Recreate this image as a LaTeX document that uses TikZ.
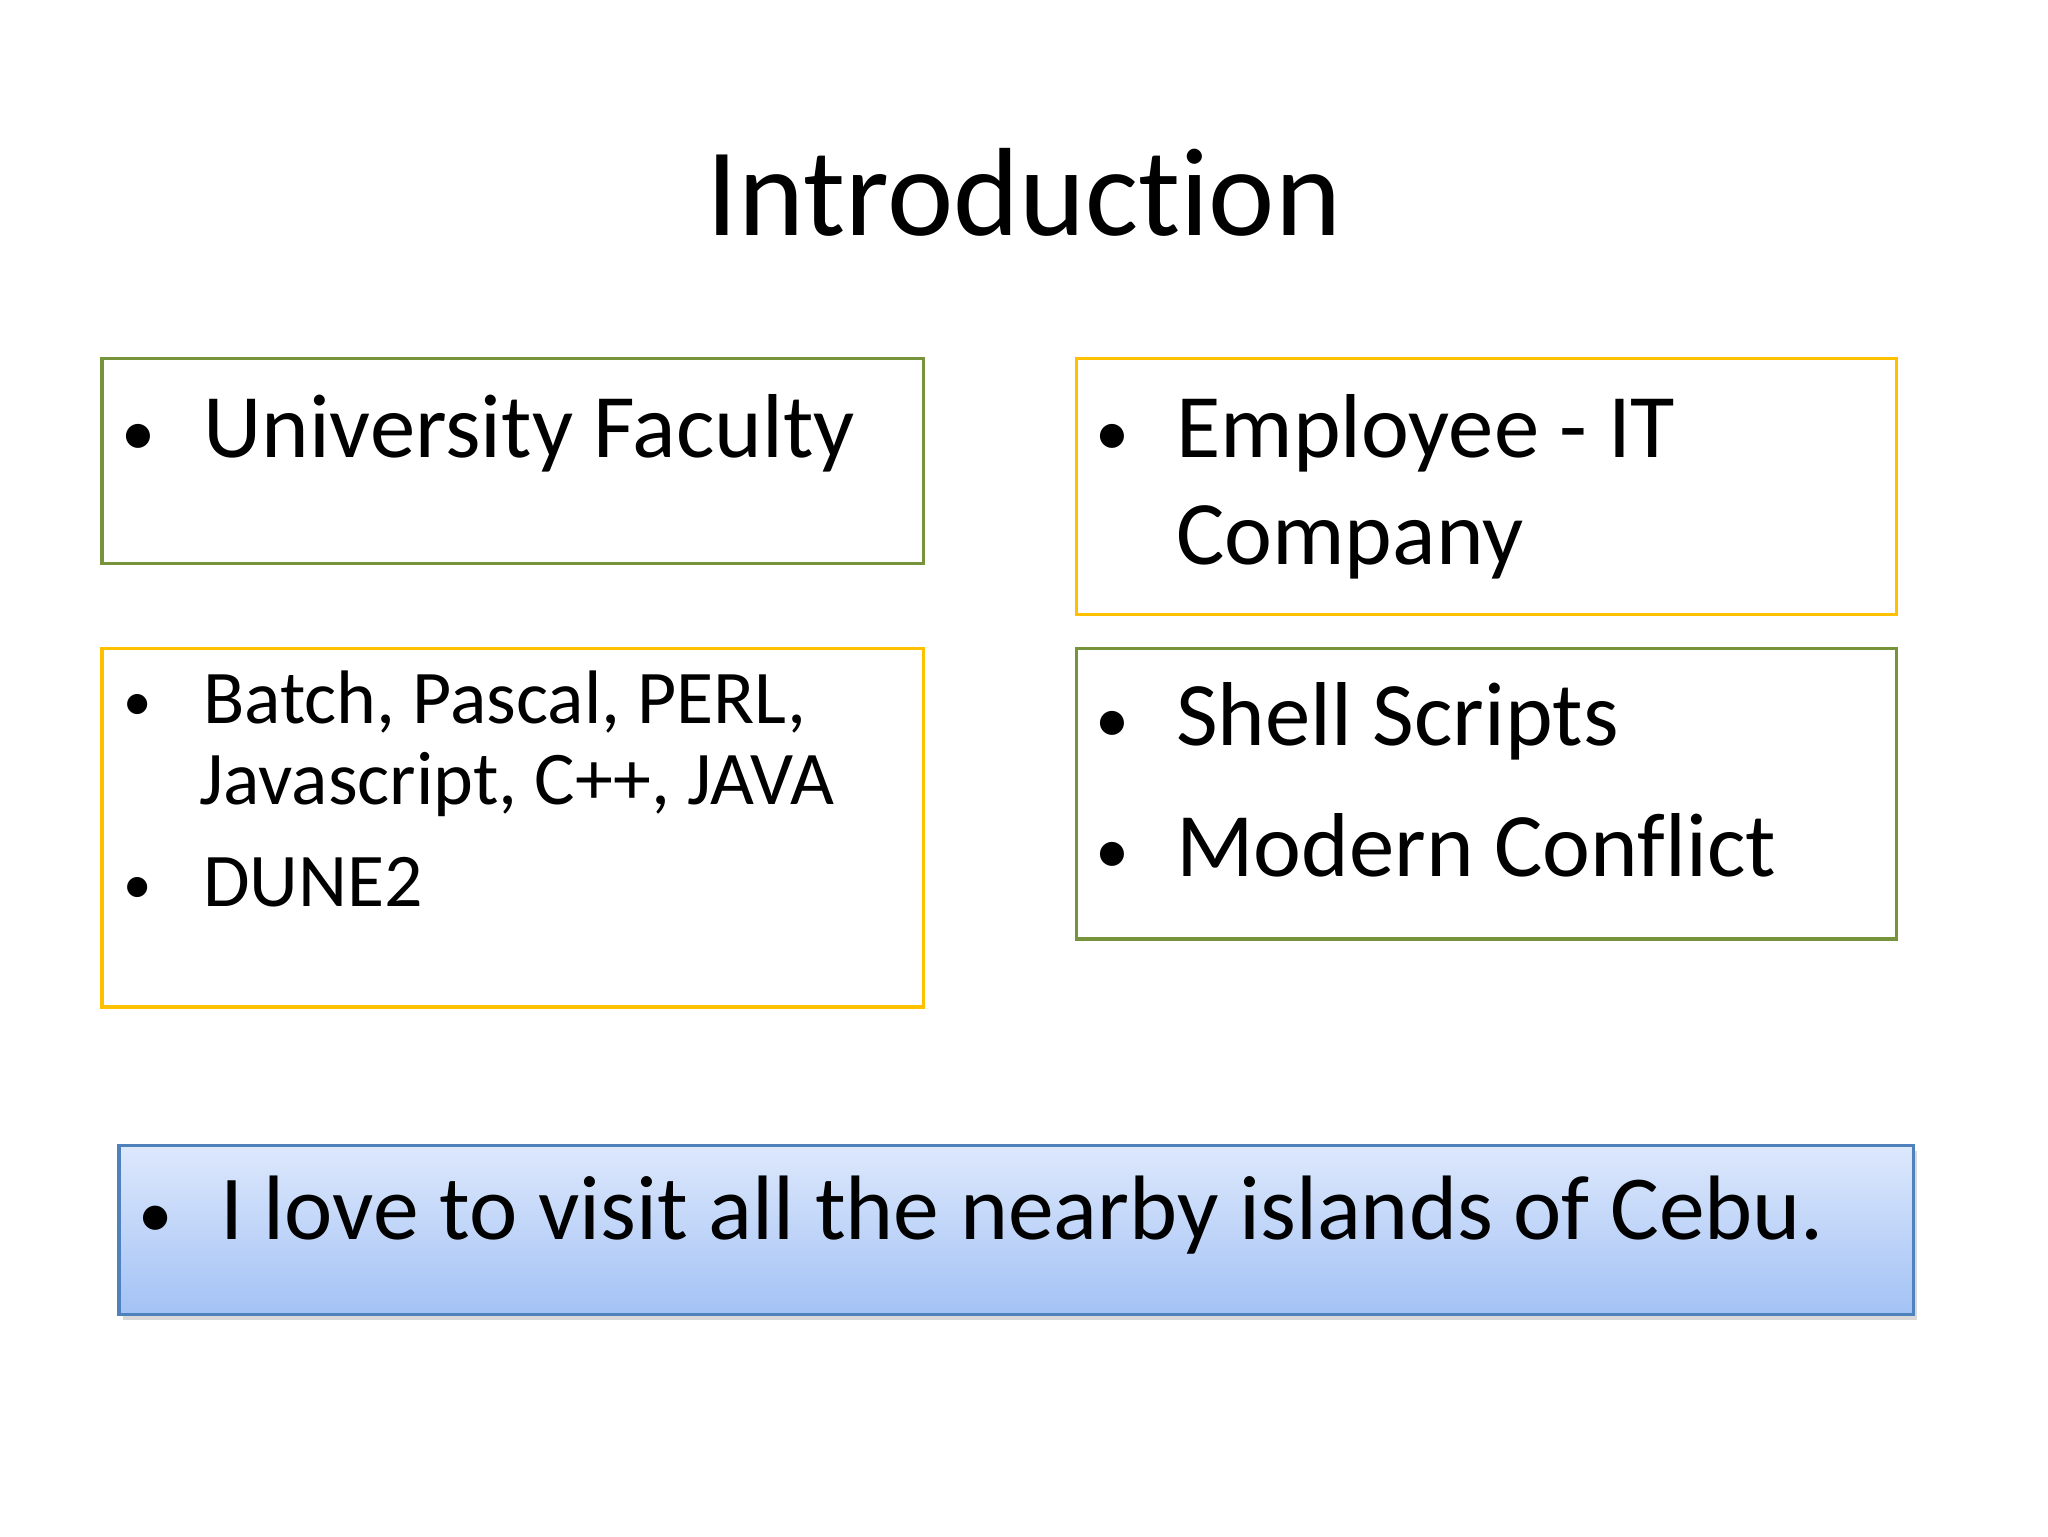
\documentclass[tikz,border=0pt]{standalone}
\usepackage{fontspec}
\setmainfont[Ligatures=NoCommon]{Carlito}
\definecolor{bgreen}{HTML}{77933C}
\definecolor{byellow}{HTML}{FFC000}
\definecolor{bblue}{HTML}{4F81BD}
\definecolor{btop}{HTML}{DDE8FC}
\definecolor{bbot}{HTML}{A3C2F5}
\newcommand{\mybul}{\scalebox{0.75}{•}}
\begin{document}
\begin{tikzpicture}[x=0.5pt,y=-0.5pt,
  txt/.style={anchor=base west,inner sep=0pt},
  bul/.style={anchor=base,inner sep=0pt},
  big/.style={font=\fontsize{34.7}{42}\selectfont},
  bot/.style={font=\fontsize{35}{42}\selectfont},
  mid/.style={font=\fontsize{29}{35}\selectfont},
  frame/.style={line width=1.2pt}]
\useasboundingbox (0,0) rectangle (1566,1175);
\node[anchor=base,inner sep=0pt,font=\fontsize{48}{56}\selectfont] (title) at (783,180) {Introduction};
\draw[frame,draw=bgreen] (78,274) rectangle (706,431);
\draw[frame,draw=byellow] (823,274) rectangle (1450,470);
\draw[frame,draw=byellow] (78,496) rectangle (706,770);
\draw[frame,draw=bgreen] (823,496) rectangle (1450,718);
\node[bul,big] (b1) at (106,348) {\mybul};
\node[txt,big] (t1) at (155,350) {University Faculty};
\node[bul,big] (b2) at (851,348) {\mybul};
\node[txt,big] (t2) at (899,350) {Employee - IT};
\node[txt,big] (t2b) at (899,432) {Company};
\node[bul,mid] (b3) at (105,551) {\mybul};
\node[txt,mid] (t3) at (155,553) {Batch, Pascal, PERL,};
\node[txt,mid] (t3b) at (152,615) {Javascript, C++, JAVA};
\node[bul,mid] (b4) at (105,691) {\mybul};
\node[txt,mid] (t4) at (155,693) {DUNE2};
\node[bul,big] (b5) at (851,568) {\mybul};
\node[txt,big] (t5) at (899,570) {Shell Scripts};
\node[bul,big] (b6) at (851,668) {\mybul};
\node[txt,big] (t6) at (899,670) {Modern Conflict};
\fill[black!15] (94,880) rectangle (1466,1009);
\shade[top color=btop,bottom color=bbot,draw=bblue,line width=1.2pt] (91,876) rectangle (1463,1005);
\node[bul,bot] (b7) at (119,946) {\mybul};
\node[txt,bot] (t7) at (168,948) {I love to visit all the nearby islands of Cebu.};
\end{tikzpicture}
\end{document}
